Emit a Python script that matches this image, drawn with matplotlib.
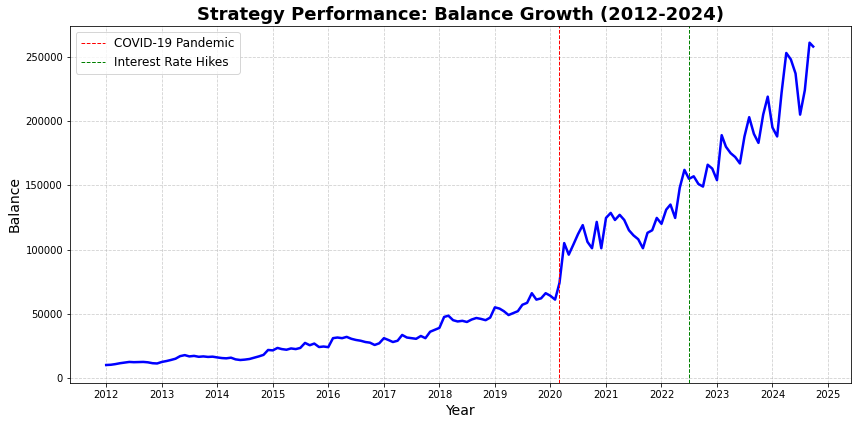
#!/usr/bin/env python3
import matplotlib
matplotlib.use('Agg')
import matplotlib.pyplot as plt
import matplotlib.dates as mdates
import pandas as pd

## monthly balance (Jan 2012 .. Sep 2024)
bal_2012 = [10100, 10300, 10800, 11500, 12000, 12500, 12300, 12400, 12500, 12200, 11500, 11300]
bal_2013 = [12500, 13200, 14000, 15000, 17000, 17800, 16800, 17200, 16500, 16800, 16400, 16600]
bal_2014 = [16000, 15500, 15300, 15800, 14500, 14000, 14300, 14800, 15800, 16800, 18000, 21800]
bal_2015 = [21500, 23400, 22500, 22000, 23000, 22500, 23400, 27300, 25500, 26800, 24100, 24500]
bal_2016 = [24000, 31000, 31500, 31000, 32000, 30500, 29600, 29000, 28000, 27500, 25700, 27000]
bal_2017 = [31000, 29500, 28000, 29000, 33500, 31500, 31000, 30500, 32700, 31000, 36000, 37500]
bal_2018 = [39000, 47500, 48500, 45000, 44000, 44500, 43600, 45500, 46700, 46000, 45000, 47000]
bal_2019 = [55000, 54000, 52000, 49000, 50500, 52000, 57000, 58500, 66000, 61000, 62000, 66000]
bal_2020 = [64000, 61000, 74000, 105000, 96000, 104000, 112000, 119000, 106000, 101000, 121500, 101000]
bal_2021 = [124600, 128500, 123000, 127000, 123000, 115000, 111000, 108000, 101000, 113000, 115000, 124600]
bal_2022 = [120000, 131000, 135000, 124600, 148000, 162000, 155000, 157000, 151000, 149000, 166000, 163000]
bal_2023 = [154000, 189000, 180000, 175000, 172000, 167000, 188000, 203000, 190000, 183000, 205000, 219000]
bal_2024 = [195000, 188000, 222000, 253000, 248000, 237000, 205000, 224000, 261000]
last_day, last_bal = '2024-09-25', 258000

balance = (bal_2012 + bal_2013 + bal_2014 + bal_2015 + bal_2016 + bal_2017 + bal_2018
           + bal_2019 + bal_2020 + bal_2021 + bal_2022 + bal_2023 + bal_2024)
dates = list(pd.date_range('2012-01-01', periods=len(balance), freq='MS'))
dates.append(pd.Timestamp(last_day))
balance.append(last_bal)

events = [('2020-03-01', 'COVID-19 Pandemic', 'red'),
          ('2022-07-01', 'Interest Rate Hikes', 'green')]

fig = plt.figure(figsize=(856/72, 424/72), dpi=72)
ax = fig.add_axes([0.0818, 0.0967, 0.9124, 0.842])

ax.plot(dates, balance, color='blue', linewidth=2.5)
for d, lab, col in events:
    ax.axvline(pd.Timestamp(d), color=col, linestyle='--', linewidth=1, label=lab)

ax.set_title('Strategy Performance: Balance Growth (2012-2024)', fontsize=18, fontweight='bold')
ax.set_xlabel('Year', fontsize=14)
ax.set_ylabel('Balance', fontsize=14)
ax.xaxis.set_major_locator(mdates.YearLocator())
ax.xaxis.set_major_formatter(mdates.DateFormatter('%Y'))
ax.set_xlim(pd.Timestamp('2011-05-08'), pd.Timestamp('2025-06-01'))
ax.set_ylim(-3900, 274000)
ax.grid(True, linestyle='--', alpha=0.6)
ax.legend(loc='upper left', fontsize=12)

plt.savefig('out.png', dpi=72)
